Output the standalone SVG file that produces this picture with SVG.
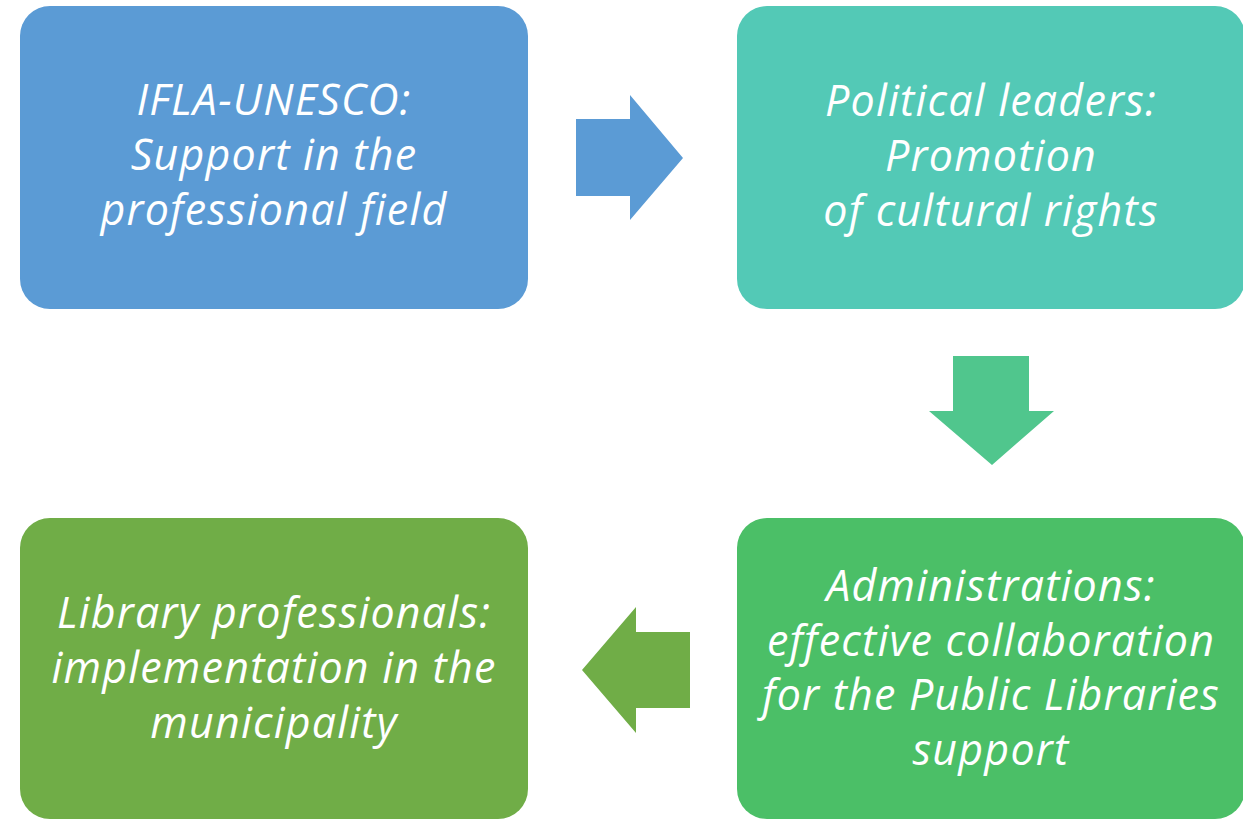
<svg xmlns="http://www.w3.org/2000/svg" width="1243" height="819" viewBox="0 0 1243 819">
<style>
.t{font-family:"Open Sans","Noto Sans","Liberation Sans",sans-serif;font-style:italic;font-weight:400;font-size:43px;letter-spacing:1.2px;fill:#ffffff;text-anchor:middle}
</style>
<rect width="1243" height="819" fill="#ffffff"/>
<g id="connectors">
<polygon points="576,119 630,119 630,95 683,158 630,220 630,196 576,196" fill="#5B9BD5"/>
<polygon points="953,356 1029,356 1029,411 1054,411 992,465 929,411 953,411" fill="#50C68D"/>
<polygon points="690,632 636,632 636,607 582,670 636,733 636,708 690,708" fill="#70AD47"/>
</g>
<g id="node1">
<rect x="20" y="6" width="508" height="303" rx="30" fill="#5B9BD5"/>
<text class="t" x="274" y="115">IFLA-UNESCO:</text>
<text class="t" x="274" y="170">Support in the</text>
<text class="t" x="274" y="225">professional field</text>
</g>
<g id="node2">
<rect x="737" y="6" width="508" height="303" rx="30" fill="#53C9B6"/>
<text class="t" x="991" y="116">Political leaders:</text>
<text class="t" x="991" y="171">Promotion</text>
<text class="t" x="991" y="226">of cultural rights</text>
</g>
<g id="node3">
<rect x="737" y="518" width="508" height="301" rx="30" fill="#4BBF67"/>
<text class="t" x="991" y="601">Administrations:</text>
<text class="t" x="991" y="656">effective collaboration</text>
<text class="t" x="991" y="710">for the Public Libraries</text>
<text class="t" x="991" y="765">support</text>
</g>
<g id="node4">
<rect x="20" y="518" width="508" height="301" rx="30" fill="#70AD47"/>
<text class="t" x="274" y="628">Library professionals:</text>
<text class="t" x="274" y="683">implementation in the</text>
<text class="t" x="274" y="738">municipality</text>
</g>
</svg>
